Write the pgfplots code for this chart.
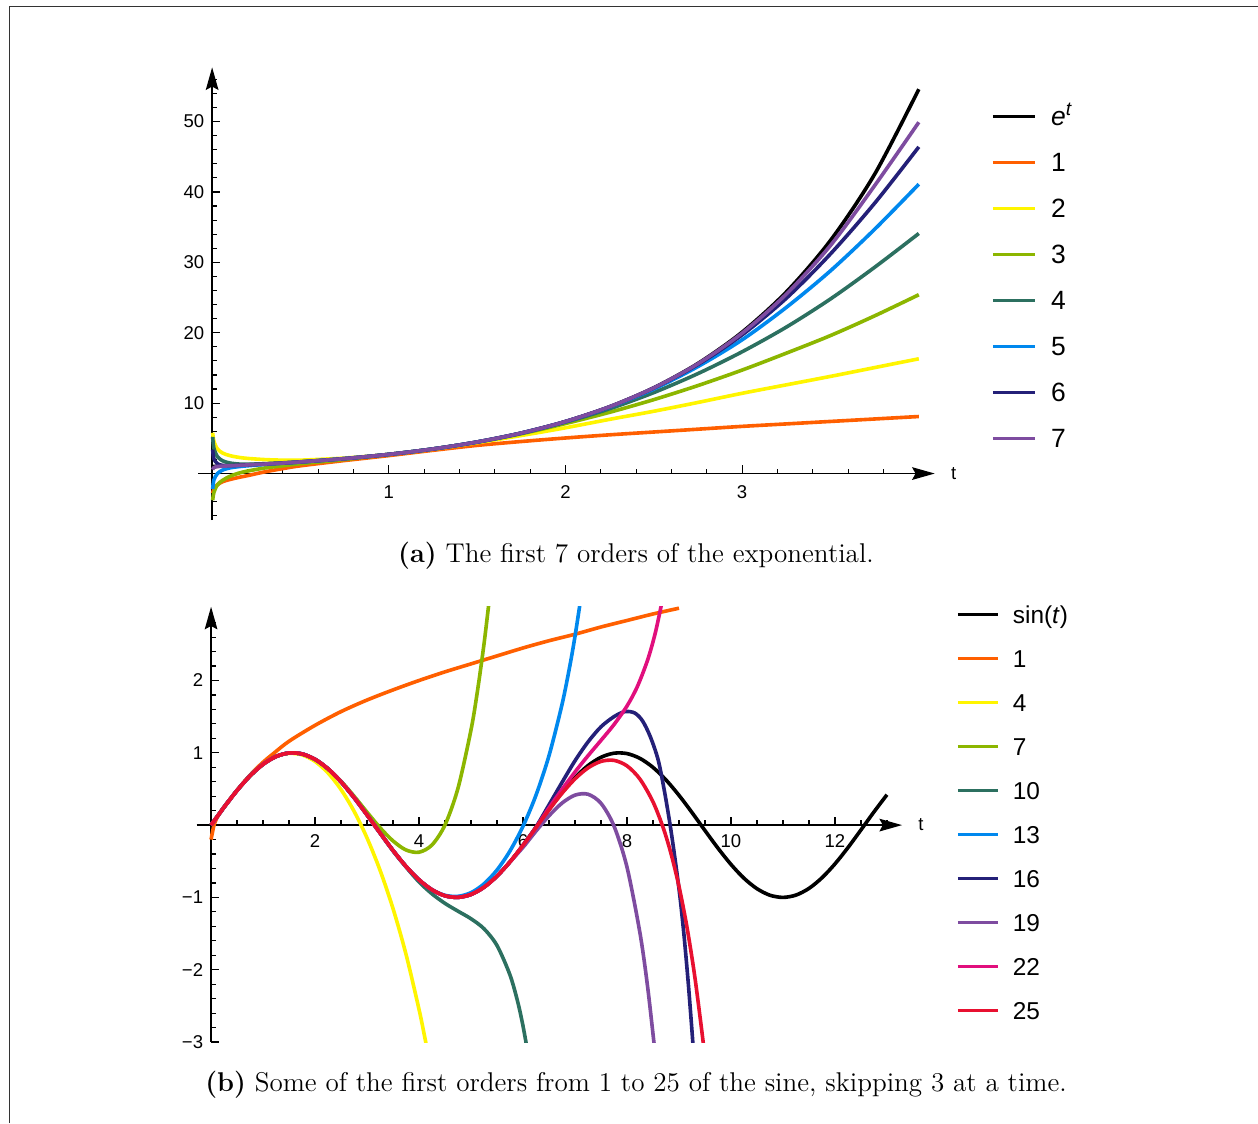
\documentclass[border=0pt]{standalone}
\usepackage{fontspec}
\usepackage{pgfplots}
\pgfplotsset{compat=1.18}
\usetikzlibrary{arrows.meta}
\newfontfamily\arial{Liberation Sans}

\definecolor{c1}{RGB}{255,95,0}
\definecolor{c2}{RGB}{255,245,0}
\definecolor{c3}{RGB}{140,182,0}
\definecolor{c4}{RGB}{44,112,96}
\definecolor{c5}{RGB}{0,136,238}
\definecolor{c6}{RGB}{36,32,120}
\definecolor{c7}{RGB}{126,76,160}
\definecolor{c8}{RGB}{225,15,125}
\definecolor{c9}{RGB}{232,16,48}

\pgfplotsset{
  mma/.style={
    scale only axis, axis lines=middle, enlargelimits=false, clip=true,
    axis line style={line width=0.6pt, -{Stealth[length=10pt,width=5.6pt,inset=1.5pt]}},
    tick align=inside, major tick length=3.6pt, minor tick length=2.2pt,
    every tick/.style={black, line width=0.5pt},
    tick label style={font=\arial\fontsize{8.2}{9}\selectfont, text=black},
    /pgf/number format/assume math mode=true,
    xlabel={t},
    xlabel style={at={(current axis.right of origin)}, anchor=west, inner sep=0pt,
      xshift=7pt, font=\arial\fontsize{8.2}{9}\selectfont},
    every axis plot/.append style={line width=1.6pt, smooth, tension=0.5},
    legend cell align=left,
  },
}

\begin{document}
\begin{tikzpicture}[x=0.4425pt, y=0.4425pt]
\path[use as bounding box] (0,0) rectangle (1258,1123);
\draw[line width=0.66pt, black!80] (9.5,0) -- (9.5,1116.5) -- (1258,1116.5);

\coordinate (A1) at (198,603);
\coordinate (A2) at (196.5,81);

% (a) exponential
\begin{axis}[mma, at={(A1)}, anchor=south west,
  width=326.0pt, height=200.3pt,
  xmin=-0.08, xmax=4.09, ymin=-6.6, ymax=57.7,
  xtick={1,2,3}, xticklabels={1,2,3},
  minor xtick={0.2,0.4,0.6,0.8,1.2,1.4,1.6,1.8,2.2,2.4,2.6,2.8,3.2,3.4,3.6,3.8},
  ytick={10,20,30,40,50}, yticklabels={10,20,30,40,50},
  minor ytick={-6,-4,-2,2,4,6,8,12,14,16,18,22,24,26,28,32,34,36,38,42,44,46,48,52,54,56},
  xticklabel style={yshift=-1.8pt},
  legend image code/.code={\draw[#1, line width=1.3pt] (0pt,0pt) -- (18.6pt,0pt);},
  legend style={at={(1.0762,0.9134)}, anchor=north west, draw=none, fill=none, inner sep=0pt,
    row sep=11.95pt, column sep=6.6pt,
    nodes={font=\arial\fontsize{11.7}{12}\selectfont, inner sep=0pt, text height=8.4pt, text depth=0pt}},
]
\addplot[black] coordinates {(0,1.000) (0.25,1.284) (0.5,1.649) (0.75,2.117) (1,2.718) (1.25,3.490) (1.5,4.482) (1.75,5.755) (2,7.389) (2.25,9.488) (2.5,12.182) (2.75,15.643) (3,20.086) (3.25,25.790) (3.5,33.115) (3.75,42.521) (4,54.598)};
\addlegendentry{\textit{e}\raisebox{0.75ex}{\fontsize{8.5}{9}\selectfont\textit{t}}}
\addplot[c1] coordinates {(0.003,-2.8) (0.01,-2.2) (0.03,-1.6) (0.06,-1.15) (0.1,-0.85) (0.15,-0.55) (0.2,-0.3) (0.3,0.25) (0.4,0.7) (0.5,1.1) (0.75,1.85) (1,2.55) (1.25,3.3) (1.5,4.0) (1.75,4.55) (2,5.05) (2.25,5.5) (2.5,5.9) (2.75,6.3) (3,6.7) (3.25,7.05) (3.5,7.4) (3.75,7.75) (4,8.1)};
\addlegendentry{1}
\addplot[c2] coordinates {(0.003,5.8) (0.01,4.6) (0.03,3.5) (0.06,2.9) (0.1,2.55) (0.15,2.3) (0.2,2.15) (0.3,1.98) (0.4,1.9) (0.5,1.9) (0.75,2.2) (1,2.72) (1.25,3.45) (1.5,4.38) (1.75,5.4) (2,6.5) (2.25,7.7) (2.5,8.85) (2.75,10.1) (3,11.4) (3.25,12.6) (3.5,13.8) (3.75,15.05) (4,16.3)};
\addlegendentry{2}
\addplot[c3] coordinates {(0.003,-3.8) (0.01,-2.7) (0.03,-1.6) (0.06,-0.95) (0.1,-0.4) (0.15,0.05) (0.2,0.35) (0.3,0.8) (0.4,1.1) (0.5,1.4) (0.75,2.0) (1,2.7) (1.25,3.48) (1.5,4.45) (1.75,5.65) (2,7.1) (2.25,8.7) (2.5,10.5) (2.75,12.5) (3,14.7) (3.25,17.1) (3.5,19.6) (3.75,22.4) (4,25.4)};
\addlegendentry{3}
\addplot[c4] coordinates {(0.003,5.2) (0.01,3.6) (0.03,2.4) (0.06,1.8) (0.1,1.5) (0.15,1.35) (0.2,1.32) (0.3,1.4) (0.4,1.52) (0.5,1.67) (0.75,2.12) (1,2.72) (1.25,3.49) (1.5,4.47) (1.75,5.72) (2,7.3) (2.25,9.2) (2.5,11.5) (2.75,14.2) (3,17.3) (3.25,20.8) (3.5,24.8) (3.75,29.3) (4,34.1)};
\addlegendentry{4}
\addplot[c5] coordinates {(0.003,-2.2) (0.01,-0.9) (0.03,0.0) (0.06,0.5) (0.1,0.8) (0.15,0.98) (0.2,1.1) (0.3,1.3) (0.4,1.47) (0.5,1.64) (0.75,2.12) (1,2.72) (1.25,3.49) (1.5,4.48) (1.75,5.75) (2,7.37) (2.25,9.43) (2.5,12.0) (2.75,15.2) (3,19.0) (3.25,23.6) (3.5,28.8) (3.75,34.7) (4,41.1)};
\addlegendentry{5}
\addplot[c6] coordinates {(0.003,3.4) (0.01,2.1) (0.03,1.4) (0.06,1.15) (0.1,1.12) (0.15,1.17) (0.2,1.23) (0.3,1.35) (0.4,1.49) (0.5,1.65) (0.75,2.12) (1,2.72) (1.25,3.49) (1.5,4.48) (1.75,5.75) (2,7.39) (2.25,9.48) (2.5,12.15) (2.75,15.5) (3,19.7) (3.25,24.9) (3.5,31.2) (3.75,38.4) (4,46.4)};
\addlegendentry{6}
\addplot[c7] coordinates {(0.003,0.55) (0.01,0.85) (0.03,1.0) (0.06,1.05) (0.1,1.1) (0.15,1.16) (0.2,1.22) (0.3,1.35) (0.4,1.49) (0.5,1.65) (0.75,2.12) (1,2.72) (1.25,3.49) (1.5,4.48) (1.75,5.75) (2,7.39) (2.25,9.49) (2.5,12.17) (2.75,15.6) (3,19.95) (3.25,25.5) (3.5,32.4) (3.75,40.9) (4,49.9)};
\addlegendentry{7}
\end{axis}

% (b) sine
\begin{axis}[mma, at={(A2)}, anchor=south west,
  width=312.2pt, height=192.6pt,
  xmin=-0.28, xmax=13.29, ymin=-3, ymax=3.02,
  xtick={2,4,6,8,10,12}, xticklabels={2,4,6,8,10,12},
  minor xtick={0.5,1,1.5,2.5,3,3.5,4.5,5,5.5,6.5,7,7.5,8.5,9,9.5,10.5,11,11.5,12.5,13},
  ytick={-3,-2,-1,1,2}, yticklabels={−3,−2,−1,1,2},
  minor ytick={-2.8,-2.6,-2.4,-2.2,-1.8,-1.6,-1.4,-1.2,-0.8,-0.6,-0.4,-0.2,0.2,0.4,0.6,0.8,1.2,1.4,1.6,1.8,2.2,2.4,2.6,2.8},
  xticklabel style={yshift=-0.6pt},
  legend image code/.code={\draw[#1, line width=1.3pt] (0pt,0pt) -- (17.7pt,0pt);},
  legend style={at={(1.0764,1.0035)}, anchor=north west, draw=none, fill=none, inner sep=0pt,
    row sep=11.74pt, column sep=6.0pt,
    nodes={font=\arial\fontsize{10.8}{11}\selectfont, inner sep=0pt, text height=7.73pt, text depth=0pt}},
]
\addplot[black] coordinates {(0,0) (0.25,0.2474) (0.5,0.4794) (0.75,0.6816) (1,0.8415) (1.25,0.9490) (1.5,0.9975) (1.75,0.9840) (2,0.9093) (2.25,0.7781) (2.5,0.5985) (2.75,0.3817) (3,0.1411) (3.25,-0.1082) (3.5,-0.3508) (3.75,-0.5716) (4,-0.7568) (4.25,-0.8950) (4.5,-0.9775) (4.75,-0.9993) (5,-0.9589) (5.25,-0.8589) (5.5,-0.7055) (5.75,-0.5083) (6,-0.2794) (6.25,-0.0332) (6.5,0.2151) (6.75,0.4500) (7,0.6570) (7.25,0.8231) (7.5,0.9380) (7.75,0.9946) (8,0.9894) (8.25,0.9224) (8.5,0.7985) (8.75,0.6248) (9,0.4121) (9.25,0.1739) (9.5,-0.0751) (9.75,-0.3195) (10,-0.5440) (10.25,-0.7350) (10.5,-0.8797) (10.75,-0.9701) (11,-1.0000) (11.25,-0.9679) (11.5,-0.8755) (11.75,-0.7286) (12,-0.5366) (12.25,-0.3111) (12.5,-0.0663) (12.75,0.1826) (13,0.4202)};
\addlegendentry{sin(\textit{t})}
\addplot[c1] coordinates {(0,-0.2) (0.05,-0.02) (0.1,0.08) (0.2,0.2) (0.4,0.39) (0.6,0.57) (0.8,0.73) (1,0.87) (1.2,0.99) (1.5,1.16) (2,1.38) (2.5,1.57) (3,1.73) (3.5,1.87) (4,2.0) (4.5,2.12) (5,2.23) (5.5,2.34) (6,2.45) (6.5,2.55) (7,2.64) (7.5,2.74) (8,2.83) (8.5,2.92) (9,3.0)};
\addlegendentry{1}
\addplot[c2] coordinates {(0,0) (0.25,0.2474) (0.5,0.4794) (0.75,0.6816) (1,0.8415) (1.25,0.9490) (1.5,0.9925) (1.75,0.9714) (2,0.8813) (2.25,0.7213) (2.5,0.4917) (2.75,0.1925) (3,-0.178) (3.25,-0.6238) (3.5,-1.155) (3.75,-1.788) (4,-2.549) (4.1,-2.896) (4.15,-3.081)};
\addlegendentry{4}
\addplot[c3] coordinates {(0,0) (0.25,0.2474) (0.5,0.4794) (0.75,0.6816) (1,0.8415) (1.25,0.9490) (1.5,0.9975) (1.75,0.9840) (2,0.9093) (2.25,0.7781) (2.5,0.607) (2.75,0.401) (3,0.179) (3.25,-0.036) (3.5,-0.219) (3.75,-0.344) (4,-0.375) (4.25,-0.274) (4.5,0.003) (4.75,0.512) (5,1.318) (5.125,1.86) (5.25,2.506) (5.35,3.11)};
\addlegendentry{7}
\addplot[c4] coordinates {(0,0) (0.25,0.2474) (0.5,0.4794) (0.75,0.6816) (1,0.8415) (1.25,0.9490) (1.5,0.9975) (1.75,0.9840) (2,0.9093) (2.25,0.7781) (2.5,0.5985) (2.75,0.3817) (3,0.1411) (3.25,-0.1082) (3.5,-0.3575) (3.75,-0.58) (4,-0.7857) (4.25,-0.9513) (4.5,-1.0831) (4.75,-1.1906) (5,-1.2954) (5.25,-1.4337) (5.5,-1.6655) (5.75,-2.074) (5.9,-2.450) (6.0,-2.779) (6.1,-3.178)};
\addlegendentry{10}
\addplot[c5] coordinates {(0,0) (0.25,0.2474) (0.5,0.4794) (0.75,0.6816) (1,0.8415) (1.25,0.9490) (1.5,0.9975) (1.75,0.9840) (2,0.9093) (2.25,0.7781) (2.5,0.5985) (2.75,0.3817) (3,0.1411) (3.25,-0.1082) (3.5,-0.3508) (3.75,-0.5716) (4,-0.7568) (4.25,-0.8950) (4.5,-0.9712) (4.75,-0.985) (5,-0.9343) (5.25,-0.8124) (5.5,-0.6205) (5.75,-0.3567) (6.0,-0.0158) (6.25,0.4151) (6.5,0.9609) (6.75,1.668) (6.9,2.200) (7.0,2.612) (7.1,3.080)};
\addlegendentry{13}
\addplot[c6] coordinates {(0,0) (0.25,0.2474) (0.5,0.4794) (0.75,0.6816) (1,0.8415) (1.25,0.9490) (1.5,0.9975) (1.75,0.9840) (2,0.9093) (2.25,0.7781) (2.5,0.5985) (2.75,0.3817) (3,0.1411) (3.25,-0.1082) (3.5,-0.3508) (3.75,-0.5716) (4,-0.7568) (4.25,-0.8950) (4.5,-0.9775) (4.75,-0.9993) (5,-0.9589) (5.25,-0.8589) (5.5,-0.7055) (5.75,-0.5083) (6,-0.2794) (6.25,-0.025) (6.5,0.28) (6.75,0.59) (7.0,0.89) (7.25,1.15) (7.5,1.36) (7.75,1.50) (7.96,1.57) (8.15,1.55) (8.3,1.44) (8.45,1.22) (8.6,0.9) (8.72,0.47) (8.83,0.0) (8.93,-0.5) (9.02,-1.0) (9.1,-1.55) (9.18,-2.2) (9.25,-2.85) (9.28,-3.15)};
\addlegendentry{16}
\addplot[c7] coordinates {(0,0) (0.25,0.2474) (0.5,0.4794) (0.75,0.6816) (1,0.8415) (1.25,0.9490) (1.5,0.9975) (1.75,0.9840) (2,0.9093) (2.25,0.7781) (2.5,0.5985) (2.75,0.3817) (3,0.1411) (3.25,-0.1082) (3.5,-0.3508) (3.75,-0.5716) (4,-0.7568) (4.25,-0.8950) (4.5,-0.9775) (4.75,-0.9993) (5,-0.9589) (5.25,-0.8589) (5.5,-0.7055) (5.75,-0.5083) (6.0,-0.3074) (6.25,-0.0828) (6.5,0.1292) (6.75,0.3044) (7.0,0.4146) (7.25,0.4270) (7.5,0.3013) (7.75,-0.0131) (8.0,-0.5819) (8.25,-1.4956) (8.4,-2.257) (8.55,-3.218)};
\addlegendentry{19}
\addplot[c8] coordinates {(0,0) (0.25,0.2474) (0.5,0.4794) (0.75,0.6816) (1,0.8415) (1.25,0.9490) (1.5,0.9975) (1.75,0.9840) (2,0.9093) (2.25,0.7781) (2.5,0.5985) (2.75,0.3817) (3,0.1411) (3.25,-0.1082) (3.5,-0.3508) (3.75,-0.5716) (4,-0.7568) (4.25,-0.8950) (4.5,-0.9775) (4.75,-0.9993) (5,-0.9589) (5.25,-0.8589) (5.5,-0.7055) (5.75,-0.5083) (6,-0.2794) (6.25,-0.0332) (6.5,0.2388) (6.75,0.4934) (7.0,0.7347) (7.25,0.9593) (7.5,1.1723) (7.75,1.3905) (8.0,1.6475) (8.2,1.9175) (8.4,2.291) (8.55,2.675) (8.7,3.181)};
\addlegendentry{22}
\addplot[c9] coordinates {(0,0) (0.25,0.2474) (0.5,0.4794) (0.75,0.6816) (1,0.8415) (1.25,0.9490) (1.5,0.9975) (1.75,0.9840) (2,0.9093) (2.25,0.7781) (2.5,0.5985) (2.75,0.3817) (3,0.1411) (3.25,-0.1082) (3.5,-0.3508) (3.75,-0.5716) (4,-0.7568) (4.25,-0.8950) (4.5,-0.9775) (4.75,-0.9993) (5,-0.9589) (5.25,-0.8589) (5.5,-0.7055) (5.75,-0.5083) (6,-0.2794) (6.25,-0.0332) (6.5,0.2101) (6.75,0.4405) (7.0,0.6394) (7.25,0.7912) (7.5,0.8812) (7.75,0.8954) (8.0,0.8193) (8.25,0.6353) (8.5,0.3216) (8.7,-0.045) (8.85,-0.4035) (9.0,-0.848) (9.15,-1.397) (9.3,-2.076) (9.45,-2.913) (9.5,-3.234)};
\addlegendentry{25}
\end{axis}

\node[font=\fontsize{12}{14}\selectfont] at (636,567) {\textbf{(a)} The first 7 orders of the exponential.};
\node[font=\fontsize{12}{14}\selectfont] at (636,38) {\textbf{(b)} Some of the first orders from 1 to 25 of the sine, skipping 3 at a time.};
\end{tikzpicture}
\end{document}
